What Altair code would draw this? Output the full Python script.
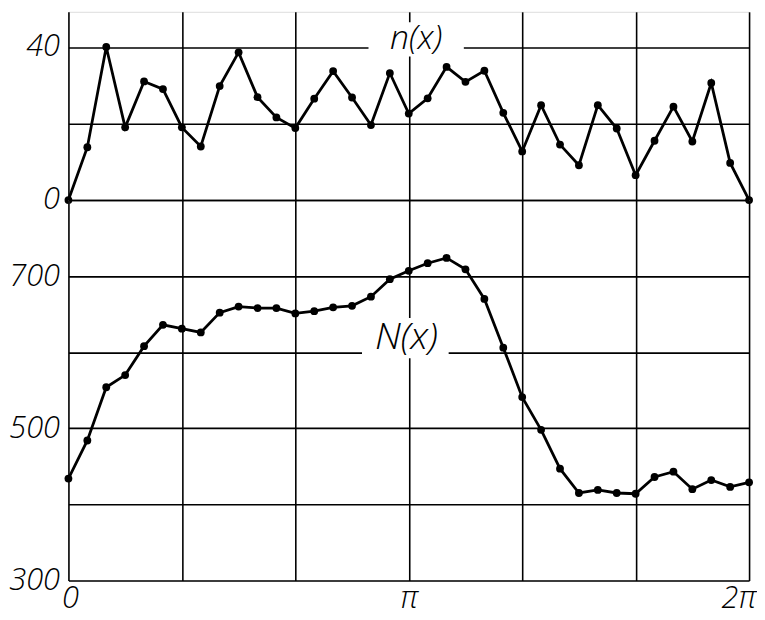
import math
import altair as alt
import pandas as pd

# sampling angles: 0°, 10°, ..., 360° (in radians)
angles_deg = list(range(0, 361, 10))
x_vals = [d * math.pi / 180 for d in angles_deg]

# n(x) – upper curve
n_vals = [0, 13.8, 40, 19, 31, 29, 19, 14, 29.8, 38.6,
          26.9, 21.6, 18.8, 26.5, 33.7, 26.8, 19.6, 33.2, 22.6, 26.6,
          34.8, 30.9, 33.8, 22.8, 12.7, 24.8, 14.5, 9.1, 24.8, 18.7,
          6.5, 15.5, 24.4, 15.3, 30.6, 9.7, 0]

# N(x) – lower curve
N_vals = [434, 484, 554, 570, 608, 636, 631, 626, 652, 660,
          658, 658, 651, 654, 659, 661, 673, 696, 707, 717,
          724, 709, 670, 606, 541, 498, 447, 415, 419, 415,
          414, 436, 443, 420, 432, 423, 429]

x_grid = [k * math.pi / 3 for k in range(7)]
top_y_grid = [0, 20, 40]
bot_y_grid = [300, 400, 500, 600, 700, 800]

df = pd.DataFrame({"x": x_vals, "n": n_vals, "N": N_vals})
one = pd.DataFrame({"a": [0]})

FONT = "Open Sans"
W = 687
LFS = 31

xscale = alt.Scale(domain=[0, 2 * math.pi], nice=False, zero=False)

grid_kw = dict(grid=True, gridColor="black", gridWidth=1.6, gridOpacity=1,
               ticks=False, domain=False, title=None)

x_axis_top = alt.Axis(values=x_grid, labels=False, minExtent=0, maxExtent=0, **grid_kw)
x_axis_bot = alt.Axis(
    values=x_grid,
    labelExpr="abs(datum.value) < 0.01 ? '0' : abs(datum.value - PI) < 0.01 ? 'π' : abs(datum.value - 2*PI) < 0.01 ? '2π' : ''",
    labelFont=FONT, labelFontSize=LFS, labelFontStyle="italic", labelFontWeight=300,
    labelColor="black", labelPadding=3, labelFlush=True, labelFlushOffset=7,
    **grid_kw)

y_axis_top = alt.Axis(
    values=top_y_grid,
    labelExpr="datum.value == 20 ? '' : datum.label",
    labelFont=FONT, labelFontSize=LFS, labelFontStyle="italic", labelFontWeight=300,
    labelColor="black", labelPadding=9, minExtent=56, maxExtent=56, **grid_kw)
y_axis_bot = alt.Axis(
    values=bot_y_grid,
    labelExpr="(datum.value == 300 || datum.value == 500 || datum.value == 700) ? datum.label : ''",
    labelFont=FONT, labelFontSize=LFS, labelFontStyle="italic", labelFontWeight=300,
    labelColor="black", labelPadding=9, minExtent=56, maxExtent=56, **grid_kw)

# ---- top panel: n(x)
top_base = alt.Chart(df).encode(
    x=alt.X("x:Q", scale=xscale, axis=x_axis_top),
    y=alt.Y("n:Q", scale=alt.Scale(domain=[0, 49.2], nice=False), axis=y_axis_top),
)
top_mask = alt.Chart(one).mark_rect(color="white").encode(
    x=alt.datum(2.77), x2=alt.datum(3.65), y=alt.datum(37.5), y2=alt.datum(46.5))
top_line = top_base.mark_line(color="black", strokeWidth=2.8)
top_pts = top_base.mark_circle(color="black", size=62, opacity=1)
top_lbl = alt.Chart(one).mark_text(
    text="n(x)", font=FONT, fontSize=34, fontStyle="italic", fontWeight=300,
    color="black", baseline="middle").encode(x=alt.datum(3.21), y=alt.datum(42))
top = alt.layer(top_mask, top_line, top_pts, top_lbl).properties(width=W, height=190)

# ---- bottom panel: N(x)
bot_base = alt.Chart(df).encode(
    x=alt.X("x:Q", scale=xscale, axis=x_axis_bot),
    y=alt.Y("N:Q", scale=alt.Scale(domain=[300, 800], nice=False, zero=False), axis=y_axis_bot),
)
bot_mask = alt.Chart(one).mark_rect(color="white").encode(
    x=alt.datum(2.71), x2=alt.datum(3.51), y=alt.datum(592), y2=alt.datum(645))
bot_line = bot_base.mark_line(color="black", strokeWidth=2.8)
bot_pts = bot_base.mark_circle(color="black", size=62, opacity=1)
bot_lbl = alt.Chart(one).mark_text(
    text="N(x)", font=FONT, fontSize=38, fontStyle="italic", fontWeight=300,
    color="black", baseline="middle").encode(x=alt.datum(3.12), y=alt.datum(618))
bottom = alt.layer(bot_mask, bot_line, bot_pts, bot_lbl).properties(width=W, height=384)

chart = (
    alt.vconcat(top, bottom, spacing=0, bounds="flush")
    .properties(padding=0)
    .configure_view(stroke="black", strokeWidth=2.5)
    .configure(background="white", padding=0)
)

chart.save("out.html", embed_options={"renderer": "svg", "actions": False})
